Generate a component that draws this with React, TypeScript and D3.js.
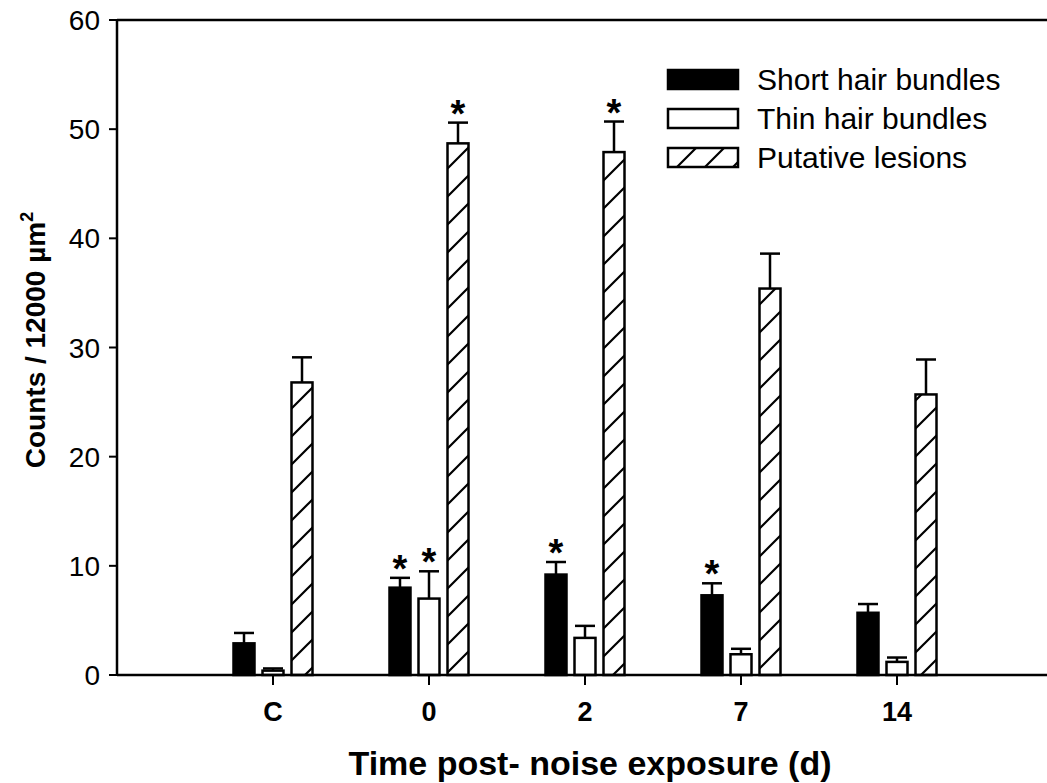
import React, { useEffect, useRef } from 'react';
import * as d3 from 'd3';

// values (mean, upper error)
const categories = ['C', '0', '2', '7', '14'];
const seriesNames = ['Short hair bundles', 'Thin hair bundles', 'Putative lesions'];

const shortMeans = [2.9, 8.0, 9.2, 7.3, 5.7];
const shortErr = [0.95, 0.9, 1.15, 1.1, 0.8];
const shortSig = [false, true, true, true, false];

const thinMeans = [0.4, 7.0, 3.4, 1.9, 1.2];
const thinErr = [0.2, 2.5, 1.1, 0.5, 0.4];
const thinSig = [false, true, false, false, false];

const lesionMeans = [26.8, 48.7, 47.9, 35.4, 25.7];
const lesionErr = [2.3, 1.9, 2.8, 3.2, 3.2];
const lesionSig = [false, true, true, false, false];

const yTicks = [0, 10, 20, 30, 40, 50, 60];

const FONT = '"Liberation Sans", Arial, Helvetica, sans-serif';

function App() {
  const ref = useRef<SVGSVGElement>(null);

  useEffect(() => {
    const width = 1047;
    const height = 783;
    const left = 117;
    const right = 1053;
    const top = 20;
    const bottom = 675;

    const svg = d3.select(ref.current);
    svg.selectAll('*').remove();
    svg.attr('width', width).attr('height', height);

    const defs = svg.append('defs');
    const pat = defs.append('pattern')
      .attr('id', 'hatch')
      .attr('patternUnits', 'userSpaceOnUse')
      .attr('width', 28)
      .attr('height', 28);
    pat.append('rect').attr('width', 28).attr('height', 28).attr('fill', 'white');
    pat.append('path')
      .attr('d', 'M-7,7 L7,-7 M0,28 L28,0 M21,35 L35,21')
      .attr('stroke', 'black')
      .attr('stroke-width', 2.2);

    const x0 = d3.scaleBand<string>()
      .domain(categories)
      .range([left, right])
      .paddingInner(0)
      .paddingOuter(0.5);

    const x1 = d3.scaleBand<string>()
      .domain(seriesNames)
      .range([-39.5, 39.5])
      .paddingInner(0.276)
      .paddingOuter(0);

    const y = d3.scaleLinear().domain([0, 60]).range([bottom, top]);

    const fills = ['black', 'white', 'url(#hatch)'];
    const means = [shortMeans, thinMeans, lesionMeans];
    const errs = [shortErr, thinErr, lesionErr];
    const sigs = [shortSig, thinSig, lesionSig];

    const rows = categories.flatMap((c, i) =>
      seriesNames.map((s, k) => ({
        cat: c, ser: s, k,
        v: means[k][i], e: errs[k][i], sig: sigs[k][i],
      }))
    );
    const cx = (d: { cat: string; ser: string }) =>
      x0(d.cat)! + x0.bandwidth() / 2 + x1(d.ser)! + x1.bandwidth() / 2;

    const g = svg.append('g');

    // error bars (upper only)
    const eb = g.selectAll('g.err').data(rows).enter().append('g').attr('class', 'err');
    eb.append('line')
      .attr('x1', cx)
      .attr('x2', cx)
      .attr('y1', d => y(d.v))
      .attr('y2', d => y(d.v + d.e))
      .attr('stroke', 'black')
      .attr('stroke-width', 2.5);
    eb.append('line')
      .attr('x1', d => cx(d) - 10)
      .attr('x2', d => cx(d) + 10)
      .attr('y1', d => y(d.v + d.e))
      .attr('y2', d => y(d.v + d.e))
      .attr('stroke', 'black')
      .attr('stroke-width', 2.5);

    // bars
    g.selectAll('rect.bar').data(rows).enter().append('rect')
      .attr('class', 'bar')
      .attr('x', d => x0(d.cat)! + x0.bandwidth() / 2 + x1(d.ser)!)
      .attr('y', d => y(d.v))
      .attr('width', x1.bandwidth())
      .attr('height', d => bottom - y(d.v))
      .attr('fill', d => fills[d.k])
      .attr('stroke', 'black')
      .attr('stroke-width', 2.5);

    // significance stars
    g.selectAll('text.star').data(rows.filter(d => d.sig)).enter().append('text')
      .attr('class', 'star')
      .attr('x', cx)
      .attr('y', d => y(d.v + d.e) + 4)
      .attr('text-anchor', 'middle')
      .attr('font-family', FONT)
      .attr('font-weight', 'bold')
      .attr('font-size', 38)
      .text('*');

    // frame lines: top, bottom, left
    const axisStroke = 2.5;
    svg.append('line').attr('x1', left).attr('x2', width).attr('y1', top).attr('y2', top)
      .attr('stroke', 'black').attr('stroke-width', axisStroke);
    svg.append('line').attr('x1', left).attr('x2', width).attr('y1', bottom).attr('y2', bottom)
      .attr('stroke', 'black').attr('stroke-width', axisStroke);
    svg.append('line').attr('x1', left).attr('x2', left).attr('y1', top - 1).attr('y2', bottom + 1)
      .attr('stroke', 'black').attr('stroke-width', axisStroke);

    // y ticks
    const yt = svg.append('g').selectAll('g').data(yTicks).enter().append('g');
    yt.append('line')
      .attr('x1', left - 8).attr('x2', left)
      .attr('y1', d => y(d)).attr('y2', d => y(d))
      .attr('stroke', 'black').attr('stroke-width', 2);
    yt.append('text')
      .attr('x', left - 17)
      .attr('y', d => y(d) + 10)
      .attr('text-anchor', 'end')
      .attr('font-family', FONT)
      .attr('font-size', 28)
      .text(d => d);

    // x ticks
    const xt = svg.append('g').selectAll('g').data(categories).enter().append('g');
    xt.append('line')
      .attr('x1', d => x0(d)! + x0.bandwidth() / 2)
      .attr('x2', d => x0(d)! + x0.bandwidth() / 2)
      .attr('y1', bottom).attr('y2', bottom + 10)
      .attr('stroke', 'black').attr('stroke-width', 2);
    xt.append('text')
      .attr('x', d => x0(d)! + x0.bandwidth() / 2)
      .attr('y', 721)
      .attr('text-anchor', 'middle')
      .attr('font-family', FONT)
      .attr('font-weight', 'bold')
      .attr('font-size', 27)
      .text(d => d);

    // axis titles
    svg.append('text')
      .attr('x', 590)
      .attr('y', 775)
      .attr('text-anchor', 'middle')
      .attr('font-family', FONT)
      .attr('font-weight', 'bold')
      .attr('font-size', 34)
      .text('Time post- noise exposure (d)');

    const yl = svg.append('text')
      .attr('transform', 'translate(45,340) rotate(-90)')
      .attr('text-anchor', 'middle')
      .attr('font-family', FONT)
      .attr('font-weight', 'bold')
      .attr('font-size', 28);
    yl.append('tspan').text('Counts / 12000 µm');
    yl.append('tspan').attr('dy', -12).attr('font-size', 18).text('2');

    // legend
    const lg = svg.append('g').selectAll('g').data(seriesNames).enter().append('g')
      .attr('transform', (d, i) => `translate(668,${70 + i * 39})`);
    lg.append('rect')
      .attr('width', 70).attr('height', 19)
      .attr('fill', (d, i) => fills[i])
      .attr('stroke', 'black').attr('stroke-width', 2.5);
    lg.append('text')
      .attr('x', 89).attr('y', 20)
      .attr('font-family', FONT)
      .attr('font-size', 30)
      .text(d => d);
  }, []);

  return (
    <svg ref={ref} style={{ position: 'absolute', left: 0, top: 0, background: 'white' }}></svg>
  );
}

export default App;
